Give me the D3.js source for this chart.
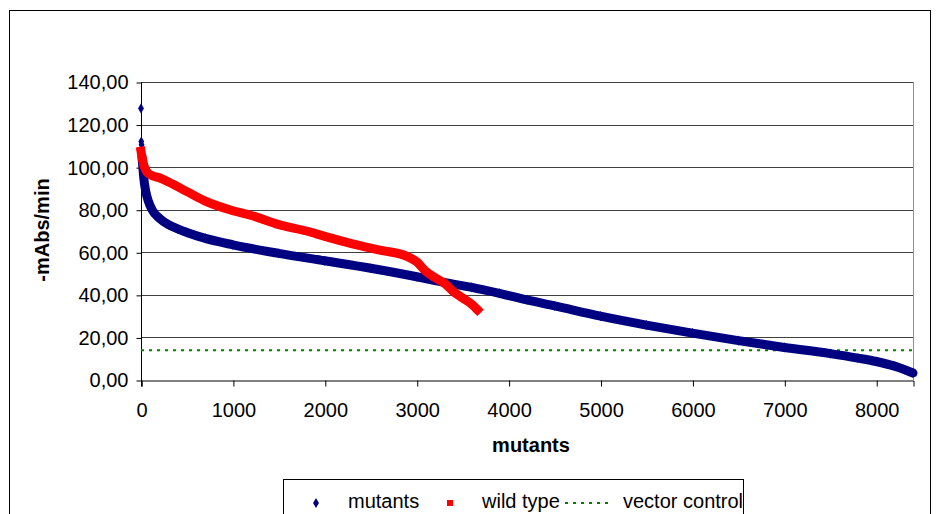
<!DOCTYPE html>
<html>
<head>
<meta charset="utf-8">
<script src="https://cdn.jsdelivr.net/npm/d3@7"></script>
<style>
  body { margin: 0; background: #fff; }
  text { font-family: "Liberation Sans", Arial, sans-serif; fill: #000; }
</style>
</head>
<body>
<div id="chart"></div>
<script>
// data (rank of mutant -> activity, -mAbs/min)
var mutantRank  = [0, 3, 6, 10, 20, 30, 50, 80, 120, 200, 300, 400, 500, 700, 1000, 1500, 2000, 2500, 3000, 3300, 3600, 3900, 4200, 4500, 5000, 5500, 6000, 6500, 7000, 7500, 7800, 8000, 8200, 8400];
var mutantValue = [127.6, 112, 110.5, 105, 100, 95, 89, 84, 80, 76, 73, 71, 69.3, 66.5, 63.5, 59.5, 56, 52.5, 48.5, 45.8, 43.5, 40.7, 37.6, 34.8, 30, 25.8, 22, 18.5, 15.3, 12.4, 10.3, 8.7, 6.5, 3.3];

var wildRank  = [0, 10, 30, 60, 100, 200, 300, 500, 700, 1000, 1200, 1500, 1800, 2000, 2300, 2600, 2900, 3000, 3100, 3200, 3300, 3400, 3500, 3600, 3660];
var wildValue = [107.5, 105, 101, 98, 96.5, 95, 93, 88.5, 84, 79.5, 77.3, 73, 70, 67.5, 64, 61, 58, 55.5, 51, 48, 45.5, 41.5, 38.5, 35.5, 33];

var vectorControl = 14;

var xTicks = [0, 1000, 2000, 3000, 4000, 5000, 6000, 7000, 8000];
var yTicks = [0, 20, 40, 60, 80, 100, 120, 140];

var legendLabels = ["mutants", "wild type", "vector control"];

// ****************************************************
var svgWidth = 940;
var svgHeight = 514;

var plot = { left: 141, right: 913, top: 82, bottom: 380 };

var svg = d3.select("#chart")
    .append("svg")
    .attr("width", svgWidth)
    .attr("height", svgHeight);

// outer chart frame
svg.append("rect")
    .attr("x", 9.5).attr("y", 10.5)
    .attr("width", 921).attr("height", 520)
    .attr("fill", "#fff")
    .attr("stroke", "#000");

var xScale = d3.scaleLinear().domain([0, 8400]).range([plot.left, plot.right]);
var yScale = d3.scaleLinear().domain([0, 140]).range([plot.bottom, plot.top]);

var comma = d3.formatLocale({ decimal: ",", thousands: ".", grouping: [3], currency: ["", ""] });
var yFmt = comma.format(".2f");

// gridlines
svg.append("g")
    .selectAll("line")
    .data(yTicks.filter(function(d) { return d > 0; }))
    .enter().append("line")
    .attr("x1", plot.left).attr("x2", plot.right)
    .attr("y1", function(d) { return Math.round(yScale(d)) + 0.5; })
    .attr("y2", function(d) { return Math.round(yScale(d)) + 0.5; })
    .attr("stroke", "#404040");

// right edge of plot area
svg.append("line")
    .attr("x1", plot.right + 0.5).attr("x2", plot.right + 0.5)
    .attr("y1", plot.top).attr("y2", plot.bottom)
    .attr("stroke", "#909090");

// axes
var yAxis = d3.axisLeft(yScale).tickValues(yTicks).tickFormat(yFmt).tickSize(5).tickPadding(8);
var xAxis = d3.axisBottom(xScale).tickValues(xTicks).tickFormat(d3.format("d")).tickSize(6).tickPadding(16);

var gy = svg.append("g")
    .attr("transform", "translate(" + (plot.left + 0.5) + ",0.5)")
    .call(yAxis);
var gx = svg.append("g")
    .attr("transform", "translate(0.5," + (plot.bottom + 0.5) + ")")
    .call(xAxis);

[gx, gy].forEach(function(g) {
  g.select(".domain").attr("stroke", "#000");
  g.selectAll(".tick line").attr("stroke", "#000");
  g.selectAll("text").attr("font-size", 20).attr("font-family", "Liberation Sans, Arial, sans-serif");
});
gy.select(".domain").attr("d", "M0," + plot.top + "V" + (plot.bottom + 6));

// axis titles
svg.append("text")
    .attr("x", xScale(4200) + 4)
    .attr("y", 452)
    .attr("text-anchor", "middle")
    .attr("font-size", 20)
    .attr("font-weight", "bold")
    .text("mutants");

svg.append("text")
    .attr("transform", "translate(49,230) rotate(-90)")
    .attr("text-anchor", "middle")
    .attr("font-size", 20)
    .attr("font-weight", "bold")
    .text("-mAbs/min");

// ****************************************************
// series
var mutants = mutantRank.map(function(r, i) { return { x: r, y: mutantValue[i] }; });
var wild = wildRank.map(function(r, i) { return { x: r, y: wildValue[i] }; });

var band = d3.line()
    .curve(d3.curveMonotoneX)
    .x(function(d) { return xScale(d.x); })
    .y(function(d) { return yScale(d.y); });

// vector control
svg.append("line")
    .attr("x1", plot.left).attr("x2", plot.right)
    .attr("y1", yScale(vectorControl)).attr("y2", yScale(vectorControl))
    .attr("stroke", "#008000")
    .attr("stroke-width", 2)
    .attr("stroke-dasharray", "3,5");

// mutants band (dense markers, outliers excluded)
svg.append("path")
    .datum(mutants.slice(3))
    .attr("d", band)
    .attr("fill", "none")
    .attr("stroke", "#000080")
    .attr("stroke-width", 9)
    .attr("stroke-linejoin", "round")
    .attr("stroke-linecap", "round");

svg.append("g")
    .selectAll("path")
    .data(mutants)
    .enter().append("path")
    .attr("d", d3.symbol().type(d3.symbolDiamond).size(30))
    .attr("transform", function(d) { return "translate(" + xScale(d.x) + "," + yScale(d.y) + ")"; })
    .attr("fill", "#000080");

// wild type band
svg.append("path")
    .datum(wild)
    .attr("d", band)
    .attr("fill", "none")
    .attr("stroke", "#ff0000")
    .attr("stroke-width", 9)
    .attr("stroke-linejoin", "round")
    .attr("stroke-linecap", "square");

svg.append("g")
    .selectAll("rect")
    .data(wild)
    .enter().append("rect")
    .attr("x", function(d) { return xScale(d.x) - 3; })
    .attr("y", function(d) { return yScale(d.y) - 3; })
    .attr("width", 6).attr("height", 6)
    .attr("fill", "#ff0000");

// ****************************************************
// legend
var legend = svg.append("g");
legend.append("rect")
    .attr("x", 283.5).attr("y", 479.5)
    .attr("width", 460).attr("height", 40)
    .attr("fill", "#fff")
    .attr("stroke", "#000");

var ly = 503;
legend.append("path")
    .attr("d", d3.symbol().type(d3.symbolDiamond).size(30))
    .attr("transform", "translate(316," + ly + ")")
    .attr("fill", "#000080");
legend.append("rect")
    .attr("x", 447).attr("y", ly - 3)
    .attr("width", 6).attr("height", 6)
    .attr("fill", "#ff0000");
legend.append("line")
    .attr("x1", 565).attr("x2", 612)
    .attr("y1", ly).attr("y2", ly)
    .attr("stroke", "#008000")
    .attr("stroke-width", 2)
    .attr("stroke-dasharray", "3,5");

var labelX = [348, 482, 623];
legendLabels.forEach(function(t, i) {
  legend.append("text")
      .attr("x", labelX[i])
      .attr("y", 508)
      .attr("font-size", 20)
      .text(t);
});
</script>
</body>
</html>
